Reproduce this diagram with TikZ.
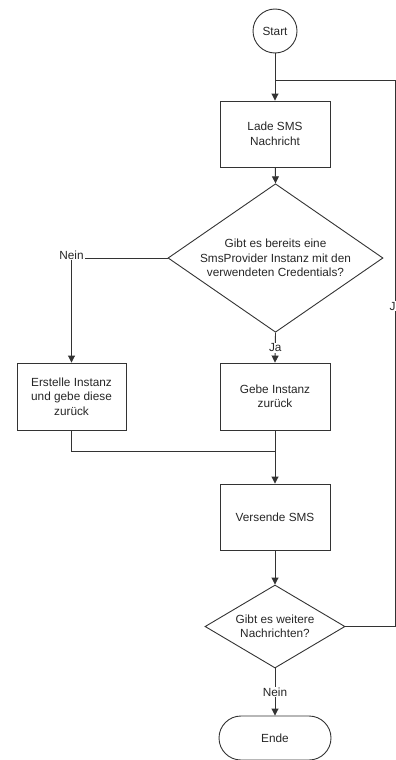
\documentclass[tikz,border=0pt]{standalone}
\usepackage{fontspec}
\setmainfont{Liberation Sans}
\usetikzlibrary{shapes.geometric,arrows.meta}

\begin{document}
\begin{tikzpicture}[x=1pt,y=-1pt,
  every node/.style={font=\fontsize{11.8pt}{14.5pt}\selectfont, text=black!85},
  line/.style={draw=black!80, line width=0.9pt},
  flow/.style={line, -{Triangle[length=7pt,width=7pt]}},
  procbox/.style={line, rectangle, minimum width=110pt, minimum height=66pt, align=center},
  decision/.style={line, diamond, align=center, inner sep=-10pt},
  terminal/.style={line, rectangle, rounded corners=22pt, minimum width=112pt, minimum height=44pt},
  lbl/.style={fill=white, inner sep=1pt}]

\useasboundingbox (0,0) rectangle (396,760);

% nodes
\node[line, circle, minimum size=44pt, inner sep=0pt] (start) at (275,31) {Start};
\node[procbox] (lade) at (275,134) {Lade SMS\\Nachricht};
\node[decision, minimum width=215pt, minimum height=128pt] (q1) at (275.5,258)
  {Gibt es bereits eine\\SmsProvider Instanz mit den\\verwendeten Credentials?};
\node[procbox, minimum width=109pt, minimum height=67pt] (erstelle) at (71.5,396.5)
  {Erstelle Instanz\\und gebe diese\\zurück};
\node[procbox, minimum height=67pt] (gebe) at (275,396.5) {Gebe Instanz\\zurück};
\node[procbox] (versende) at (275,517) {Versende SMS};
\node[decision, minimum width=140pt, minimum height=83pt] (q2) at (275,626.5)
  {Gibt es weitere\\Nachrichten?};
\node[terminal] (ende) at (275,738) {Ende};

% helper points
\coordinate (join) at (275,80);
\coordinate (merge) at (275,451);
\coordinate (rb) at (395,626.5);
\coordinate (rt) at (395,80);

% connectors
\draw[flow] (start) -- (lade);
\draw[flow] (lade) -- (q1.north);
\draw[flow] (q1.west) -| node[lbl, pos=0.5, yshift=3pt] {Nein} (erstelle.north);
\draw[flow] (q1.south) -- node[lbl] {Ja} (gebe.north);
\draw[flow] (gebe.south) -- (versende.north);
\draw[line] (erstelle.south) |- (merge);
\draw[flow] (versende.south) -- (q2.north);
\draw[flow] (q2.south) -- node[lbl] {Nein} (ende.north);
\draw[line] (q2.east) -- (rb) -- node[lbl, pos=0.586, xshift=-2.5pt] {J} (rt) -- (join);

\end{tikzpicture}
\end{document}
